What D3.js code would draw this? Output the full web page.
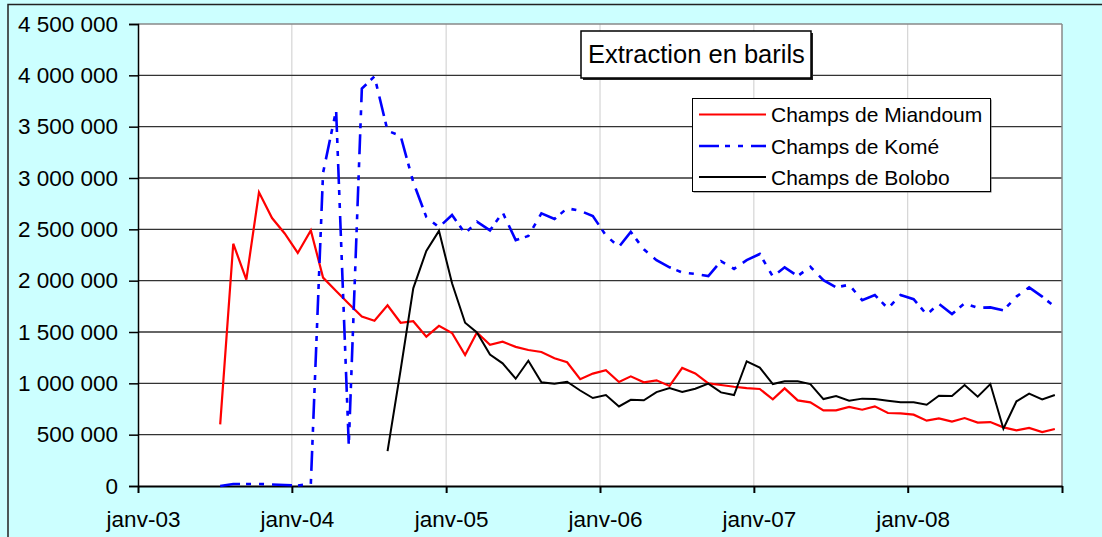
<!DOCTYPE html>
<html>
<head>
<meta charset="utf-8">
<script src="https://cdn.jsdelivr.net/npm/d3@7"></script>
<style>
  html, body { margin: 0; padding: 0; background: #ccffff; }
  svg text { font-family: "Liberation Sans", Arial, sans-serif; fill: #000; }
</style>
</head>
<body>
<div id="chart"></div>
<script>
var width = 1102,
    height = 537;

// monthly extraction (barils), first month given per series
var miandoumStart = [2003, 6];
var miandoum = [600000, 2360000, 2010000, 2860000, 2610000, 2460000,
  2270000, 2490000, 2030000, 1900000, 1775000, 1650000, 1610000, 1760000, 1590000, 1605000, 1455000, 1560000,
  1490000, 1275000, 1495000, 1375000, 1405000, 1355000, 1325000, 1305000, 1245000, 1205000, 1040000, 1095000,
  1127000, 1013000, 1068000, 1010000, 1029000, 975000, 1150000, 1097000, 1000000, 984000, 967000, 954000,
  945000, 845000, 951000, 834000, 815000, 737000, 737000, 770000, 743000, 776000, 711000, 708000,
  695000, 636000, 659000, 627000, 662000, 617000, 623000, 571000, 542000, 565000, 526000, 555000];

var komeStart = [2003, 6];
var kome = [0, 20000, 20000, 20000, 15000, 10000,
  5000, 20000, 3050000, 3660000, 400000, 3870000, 3990000, 3460000, 3410000, 2960000, 2620000, 2520000,
  2640000, 2460000, 2575000, 2490000, 2665000, 2395000, 2435000, 2655000, 2600000, 2705000, 2680000, 2630000,
  2440000, 2330000, 2475000, 2305000, 2200000, 2130000, 2080000, 2065000, 2045000, 2190000, 2115000, 2200000,
  2260000, 2040000, 2130000, 2045000, 2135000, 2005000, 1935000, 1960000, 1810000, 1860000, 1730000, 1860000,
  1820000, 1670000, 1775000, 1675000, 1780000, 1735000, 1740000, 1710000, 1845000, 1935000, 1845000, 1745000];

var boloboStart = [2004, 7];
var bolobo = [340000, 1130000, 1925000, 2290000, 2485000,
  1975000, 1590000, 1495000, 1280000, 1195000, 1045000, 1220000, 1010000, 995000, 1015000, 930000, 857000,
  886000, 775000, 840000, 835000, 915000, 955000, 915000, 948000, 997000, 912000, 886000, 1215000,
  1153000, 993000, 1020000, 1020000, 993000, 847000, 877000, 831000, 851000, 847000, 831000, 815000,
  815000, 792000, 880000, 877000, 984000, 870000, 993000, 558000, 825000, 899000, 844000, 886000];

var seriesNames = ["Champs de Miandoum", "Champs de Komé", "Champs de Bolobo"];
var xTickLabels = ["janv-03", "janv-04", "janv-05", "janv-06", "janv-07", "janv-08", ""];
var yTicks = [0, 500000, 1000000, 1500000, 2000000, 2500000, 3000000, 3500000, 4000000, 4500000];
var titleText = "Extraction en barils";

var styles = [
  {color: "#ff0000", width: 2.2, dash: null},
  {color: "#0000ff", width: 2.6, dash: "20,6,5,8,5,8"},
  {color: "#000000", width: 2, dash: null}
];

function toPoints(start, values) {
  return values.map(function(v, i) {
    return {date: new Date(start[0], start[1] + i, 15), value: v};
  });
}

var series = [
  toPoints(miandoumStart, miandoum),
  toPoints(komeStart, kome),
  toPoints(boloboStart, bolobo)
];

var plotL = 138, plotR = 1062, plotT = 24, plotB = 486;

var x = d3.scaleTime()
  .domain([new Date(2003, 0, 1), new Date(2009, 0, 1)])
  .range([plotL, plotR]);
var y = d3.scaleLinear()
  .domain([0, 4500000])
  .range([plotB, plotT]);

var fr = d3.formatLocale({decimal: ",", thousands: " ", grouping: [3], currency: ["", ""]});
var fmt = fr.format(",d");

var svg = d3.select("#chart").append("svg")
  .attr("width", width)
  .attr("height", height);

svg.append("rect")
  .attr("width", width).attr("height", height)
  .attr("fill", "#ccffff");

// outer frame (right and bottom edges fall outside the picture)
svg.append("rect")
  .attr("x", 8).attr("y", 4.5)
  .attr("width", width + 20).attr("height", height + 20)
  .attr("fill", "none")
  .attr("stroke", "#222")
  .attr("stroke-width", 1.5);

svg.append("rect")
  .attr("x", plotL).attr("y", plotT)
  .attr("width", plotR - plotL).attr("height", plotB - plotT)
  .attr("fill", "#fff");

var yearTicks = d3.range(2003, 2010).map(function(yr) { return new Date(yr, 0, 1); });

// vertical grid
svg.append("g").selectAll("line")
  .data(yearTicks.slice(1, -1))
  .enter().append("line")
  .attr("x1", function(d) { return x(d); })
  .attr("x2", function(d) { return x(d); })
  .attr("y1", plotT).attr("y2", plotB)
  .attr("stroke", "#cccccc")
  .attr("stroke-width", 1);

// horizontal grid
svg.append("g").selectAll("line")
  .data(yTicks.slice(1))
  .enter().append("line")
  .attr("x1", plotL).attr("x2", plotR)
  .attr("y1", function(d) { return y(d); })
  .attr("y2", function(d) { return y(d); })
  .attr("stroke", function(d, i) { return i == yTicks.length - 2 ? "#888" : "#333"; })
  .attr("stroke-width", 1.3);

svg.append("line")
  .attr("x1", plotR).attr("x2", plotR)
  .attr("y1", plotT).attr("y2", plotB)
  .attr("stroke", "#888").attr("stroke-width", 1.5);

// axes
var yAxis = d3.axisLeft(y)
  .tickValues(yTicks)
  .tickSize(9)
  .tickPadding(11)
  .tickFormat(function(d) { return fmt(d); });

var gy = svg.append("g")
  .attr("transform", "translate(" + plotL + ",0)")
  .call(yAxis);
gy.select(".domain").attr("stroke", "#000").attr("stroke-width", 1.5);
gy.selectAll(".tick line").attr("stroke", "#000").attr("stroke-width", 1.5);
gy.selectAll("text").style("font-size", "22.5px").attr("fill", "#000");

var xAxis = d3.axisBottom(x)
  .tickValues(yearTicks)
  .tickSize(7)
  .tickSizeOuter(0)
  .tickFormat(function(d, i) { return xTickLabels[i]; });

var gx = svg.append("g")
  .attr("transform", "translate(0," + plotB + ")")
  .call(xAxis);
gx.select(".domain").attr("stroke", "#000").attr("stroke-width", 2);
gx.selectAll(".tick line").attr("stroke", "#000").attr("stroke-width", 2);
gx.selectAll("text")
  .style("font-size", "22.5px")
  .attr("fill", "#000")
  .attr("dy", null)
  .attr("x", 5)
  .attr("y", 41);

// lines
var line = d3.line()
  .x(function(d) { return x(d.date); })
  .y(function(d) { return y(d.value); });

var lines = svg.append("g").attr("id", "lines");
series.forEach(function(s, i) {
  lines.append("path")
    .datum(s)
    .attr("d", line)
    .attr("fill", "none")
    .attr("stroke", styles[i].color)
    .attr("stroke-width", styles[i].width)
    .attr("stroke-dasharray", styles[i].dash)
    .attr("stroke-linejoin", "miter");
});

// title box
var title = svg.append("g");
title.append("rect")
  .attr("x", 583).attr("y", 33)
  .attr("width", 230).attr("height", 47)
  .attr("fill", "#222");
title.append("rect")
  .attr("x", 581).attr("y", 31)
  .attr("width", 230).attr("height", 47)
  .attr("fill", "#fff")
  .attr("stroke", "#000")
  .attr("stroke-width", 1.5);
title.append("text")
  .attr("x", 588).attr("y", 63)
  .style("font-size", "25.5px")
  .text(titleText);

// legend
var legend = svg.append("g");
legend.append("rect")
  .attr("x", 693.5).attr("y", 99.5)
  .attr("width", 298).attr("height", 93)
  .attr("fill", "#666");
legend.append("rect")
  .attr("x", 692.5).attr("y", 98.5)
  .attr("width", 298).attr("height", 93)
  .attr("fill", "#fff")
  .attr("stroke", "#000")
  .attr("stroke-width", 1);

var rowY = [114.5, 146, 177];
seriesNames.forEach(function(name, i) {
  legend.append("line")
    .attr("x1", 699).attr("x2", 766)
    .attr("y1", rowY[i]).attr("y2", rowY[i])
    .attr("stroke", styles[i].color)
    .attr("stroke-width", styles[i].width)
    .attr("stroke-dasharray", styles[i].dash);
  legend.append("text")
    .attr("x", 771).attr("y", rowY[i])
    .attr("dy", "0.36em")
    .style("font-size", "21px")
    .text(name);
});
</script>
</body>
</html>
